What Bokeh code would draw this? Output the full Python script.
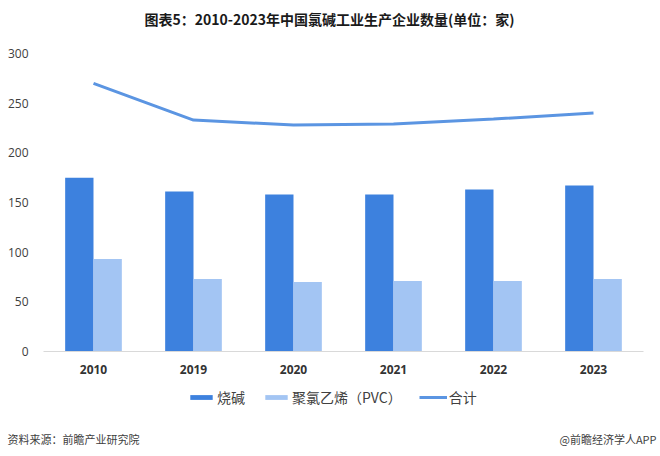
from bokeh.plotting import figure
from bokeh.layouts import column
from bokeh.models import FactorRange, Range1d, Legend, LegendItem, Label, ColumnDataSource
from bokeh.transform import dodge
from bokeh.embed import file_html
from bokeh.resources import INLINE

years = ["2010", "2019", "2020", "2021", "2022", "2023"]
caustic = [175, 161, 158, 158, 163, 167]
pvc = [93, 73, 70, 71, 71, 73]
total = [270, 233, 228, 229, 234, 240]

title_text = "图表5：2010-2023年中国氯碱工业生产企业数量(单位：家)"
source_text = "资料来源：前瞻产业研究院"
brand_text = "@前瞻经济学人APP"
series_names = ["烧碱", "聚氯乙烯（PVC）", "合计"]

dark = "#3d81de"
light = "#a3c5f3"
linec = "#5b95e2"
W = 660

src = ColumnDataSource(dict(year=years, caustic=caustic, pvc=pvc, total=total))


def draw_series(fig, flat=False):
    a = fig.vbar(x=dodge("year", -0.1417, range=fig.x_range), top="caustic",
                 bottom="caustic" if flat else 0, width=0.2833,
                 source=src, fill_color=dark, line_color=None)
    b = fig.vbar(x=dodge("year", 0.1417, range=fig.x_range), top="pvc",
                 bottom="pvc" if flat else 0, width=0.2833,
                 source=src, fill_color=light, line_color=None)
    c = fig.line(x="year", y="total", source=src, line_color=linec, line_width=3)
    return a, b, c


def strip(h, xr, yr):
    f = figure(width=W, height=h, x_range=xr, y_range=yr,
               x_axis_type=None, y_axis_type=None, min_border=0,
               output_backend="svg", toolbar_location=None, tools="")
    f.frame_align = False
    f.outline_line_color = None
    f.grid.grid_line_color = None
    return f


# title strip
t = strip(40, Range1d(0, W), Range1d(0, 40))
t.add_layout(Label(x=329, y=22, x_units="screen", y_units="screen", text=title_text,
                   text_font="Noto Sans CJK SC", text_font_size="14px", text_font_style="bold",
                   text_color="#1a1a1a", text_align="center", text_baseline="middle"))

# main chart
p = figure(x_range=FactorRange(*years), y_range=Range1d(0, 300),
           width=W, height=341,
           min_border_left=43, min_border_right=17, min_border_top=13, min_border_bottom=30,
           output_backend="svg", toolbar_location=None, tools="")
p.outline_line_color = None
p.grid.grid_line_color = None
draw_series(p)

p.yaxis.ticker = [0, 50, 100, 150, 200, 250, 300]
p.yaxis.axis_line_color = None
p.yaxis.major_tick_line_color = None
p.yaxis.minor_tick_line_color = None
p.yaxis.major_label_standoff = 9
p.yaxis.major_label_text_font = "Open Sans"
p.yaxis.major_label_text_font_size = "12px"
p.yaxis.major_label_text_color = "#404040"

p.xaxis.axis_line_color = "#d9d9d9"
p.xaxis.major_tick_line_color = None
p.xaxis.minor_tick_line_color = None
p.xaxis.major_label_standoff = 7
p.xaxis.major_label_text_font = "Open Sans"
p.xaxis.major_label_text_font_style = "bold"
p.xaxis.major_label_text_font_size = "12px"
p.xaxis.major_label_text_color = "#333333"

# footer strip: legend (its series are flat and lie far outside this strip's view) and notes
f = strip(75, FactorRange(*years), Range1d(5000, 5075))
g1, g2, g3 = draw_series(f, flat=True)
legend = Legend(items=[LegendItem(label=series_names[0], renderers=[g1]),
                       LegendItem(label=series_names[1], renderers=[g2]),
                       LegendItem(label=series_names[2], renderers=[g3])],
                location=(187, 49), orientation="horizontal",
                padding=0, margin=0, spacing=17, label_standoff=2,
                glyph_width=28, glyph_height=6, label_height=16,
                label_text_font="Noto Sans CJK SC", label_text_font_size="14px",
                label_text_color="#404040", background_fill_alpha=0,
                border_line_color=None)
f.add_layout(legend, "center")
f.add_layout(Label(x=7, y=18, x_units="screen", y_units="screen", text=source_text,
                   text_font="Noto Sans CJK SC", text_font_size="11px",
                   text_color="#404040", text_align="left", text_baseline="middle"))
f.add_layout(Label(x=656, y=18, x_units="screen", y_units="screen", text=brand_text,
                   text_font="Noto Sans CJK SC", text_font_size="11px",
                   text_color="#404040", text_align="right", text_baseline="middle"))

layout = column(t, p, f, spacing=0)
open("out.html", "w").write(file_html(layout, INLINE))
